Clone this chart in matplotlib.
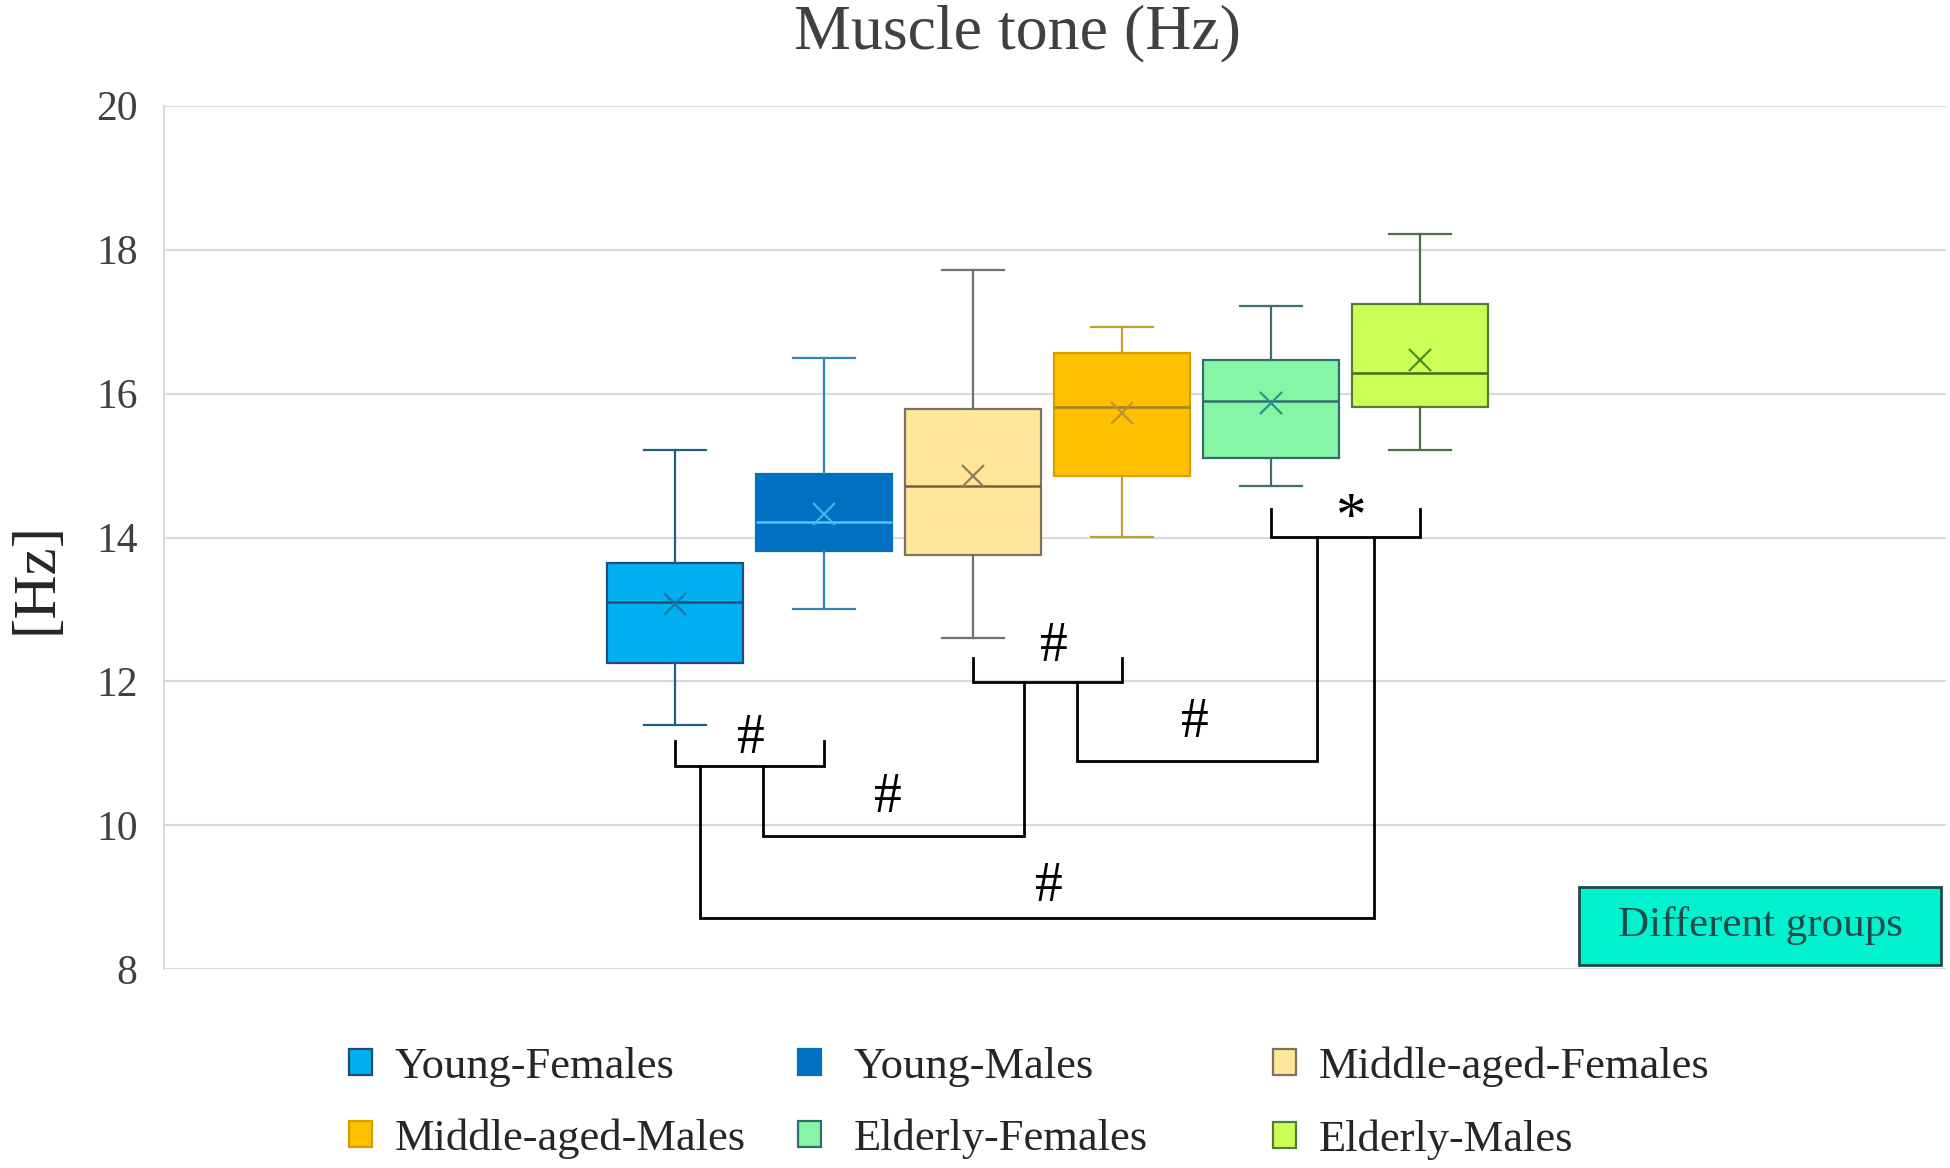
import matplotlib
matplotlib.use("Agg")
import matplotlib.pyplot as plt
from matplotlib.patches import Patch, Rectangle

plt.rcParams['font.family'] = ['Liberation Serif', 'DejaVu Serif']

# Daten
groups = ['Young-Females', 'Young-Males', 'Middle-aged-Females',
          'Middle-aged-Males', 'Elderly-Females', 'Elderly-Males']
whis_lo = [11.40, 13.01, 12.60, 14.01, 14.72, 15.22]
q1      = [12.26, 13.81, 13.76, 14.85, 15.10, 15.81]
median  = [13.10, 14.22, 14.72, 15.81, 15.89, 16.29]
mean    = [13.07, 14.32, 14.85, 15.73, 15.87, 16.47]
q3      = [13.64, 14.88, 15.79, 16.56, 16.46, 17.25]
whis_hi = [15.22, 16.50, 17.71, 16.92, 17.21, 18.22]

face_cols   = ['#00B0F0', '#0070C0', '#FFE699', '#FFC000', '#86F5A6', '#CCFF55']
edge_cols   = ['#1F4E79', '#0070C0', '#7F7060', '#D4A000', '#2F6F6F', '#4F7F2F']
median_cols = ['#1F4E79', '#55C5F5', '#6F6050', '#A08020', '#2F6F6F', '#3F6F1F']
whisk_cols  = ['#1F5F7F', '#2E86A8', '#707070', '#BFA030', '#3F6F6F', '#4F6F3F']
mean_cols   = ['#1F6FA8', '#3FB5EE', '#8F7F5F', '#C09030', '#2F8F8F', '#4F8F1F']

# Signifikanz-Klammern: (x links, x rechts, y Linie, y Spitze)
brackets = [(1, 2, 10.82, 11.17), (3, 4, 11.99, 12.32), (5, 6, 14.01, 14.39)]
# Verbindungen: (x1, y1, x2, y2, y unten)
links = [(1.59, 10.82, 3.34, 11.99, 9.86),
         (3.70, 11.99, 5.31, 14.01, 10.90),
         (1.17, 10.82, 5.69, 14.01, 8.72)]
marks = [('#', 1.51, 11.20), ('#', 3.54, 12.48), ('*', 5.53, 14.25),
         ('#', 2.43, 10.38), ('#', 4.49, 11.42), ('#', 3.51, 9.14)]

fig = plt.figure(figsize=(19.5, 11.68), dpi=100)
ax = fig.add_axes([0.0841, 0.170, 0.9139, 0.7396])

positions = list(range(1, len(groups) + 1))
for i, p in enumerate(positions):
    stats = [dict(whislo=whis_lo[i], q1=q1[i], med=median[i], mean=mean[i],
                  q3=q3[i], whishi=whis_hi[i], fliers=[])]
    ax.bxp(stats, positions=[p], widths=0.91, patch_artist=True, showmeans=True,
           boxprops=dict(facecolor=face_cols[i], edgecolor=edge_cols[i], linewidth=1.6),
           medianprops=dict(color=median_cols[i], linewidth=1.8),
           whiskerprops=dict(color=whisk_cols[i], linewidth=1.6),
           capprops=dict(color=whisk_cols[i], linewidth=1.6),
           capwidths=0.42,
           meanprops=dict(marker='x', markersize=16, markeredgewidth=1.6,
                          markeredgecolor=mean_cols[i]),
           zorder=3)

for xl, xr, yl, yt in brackets:
    ax.plot([xl, xl, xr, xr], [yt, yl, yl, yt], color='black', lw=2.0,
            solid_joinstyle='miter', zorder=4)
for x1, y1, x2, y2, yb in links:
    ax.plot([x1, x1, x2, x2], [y1, yb, yb, y2], color='black', lw=2.0,
            solid_joinstyle='miter', zorder=4)
for s, x, y in marks:
    ax.text(x, y, s, fontsize=44 if s == '*' else 40, ha='center', va='center',
            color='black', zorder=5)

ax.set_xlim(-2.43, 9.53)
ax.set_ylim(8, 20)
ax.set_yticks(range(8, 21, 2))
ax.set_xticks([])
ax.grid(axis='y', color='#D9D9D9', linewidth=1.5, zorder=0)
ax.set_axisbelow(True)
for side in ['top', 'right', 'bottom']:
    ax.spines[side].set_visible(False)
ax.spines['left'].set_color('#D9D9D9')
ax.spines['left'].set_linewidth(1.5)
ax.tick_params(axis='y', length=0, pad=19, labelsize=30, labelcolor='#404040')

fig.text(0.5216, 0.971, 'Muscle tone (Hz)', fontsize=46, ha='center', va='center',
         color='#404040')
fig.text(0.019, 0.505, '[Hz]', fontsize=44, rotation=90, ha='center', va='center',
         color='#262626')

# Legende: drei Spalten, je zwei Zeilen
handles = [Patch(facecolor=face_cols[i], edgecolor=edge_cols[i], linewidth=1.6)
           for i in range(len(groups))]
col_x = [0.179, 0.409, 0.653]
text_pad = [0.5, 0.75, 0.5]
for j, cx in enumerate(col_x):
    fig.legend([handles[j], handles[j + 3]], [groups[j], groups[j + 3]],
               loc='upper left', bbox_to_anchor=(cx, 0.104), frameon=False,
               fontsize=32, handlelength=0.52, handleheight=0.52,
               handletextpad=text_pad[j], labelspacing=0.72, borderpad=0,
               borderaxespad=0, labelcolor='#262626')

fig.patches.append(Rectangle((0.8097, 0.1738), 0.1856, 0.0668,
                             transform=fig.transFigure, facecolor='#00F2CE',
                             edgecolor='#1F4A4A', linewidth=2.0, zorder=6))
fig.text(0.9026, 0.2072, 'Different groups', fontsize=31, ha='center', va='center',
         color='#1F4A4A', zorder=7)

fig.savefig('out.png', dpi=100)
